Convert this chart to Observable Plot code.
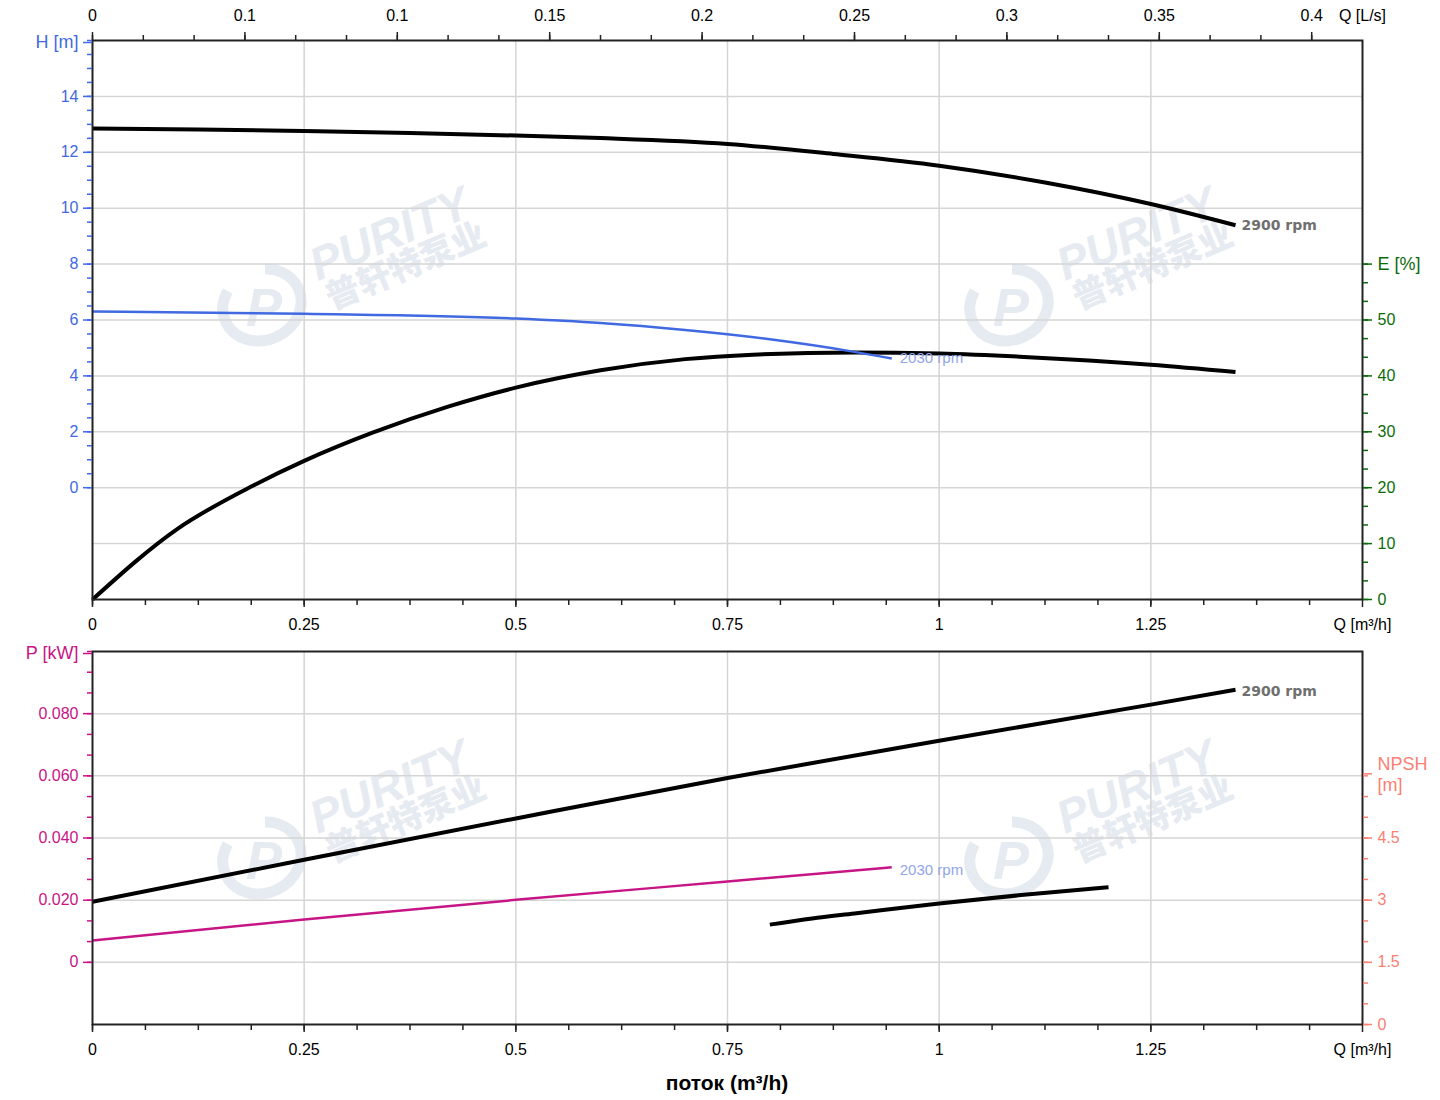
<!DOCTYPE html>
<html>
<head>
<meta charset="utf-8">
<script src="https://cdn.jsdelivr.net/npm/d3@7"></script>
<script src="https://cdn.jsdelivr.net/npm/@observablehq/plot@0.6"></script>
<style>
  body { margin: 0; background: #fff; font-family: "Liberation Sans", Arial, sans-serif; }
  #wrap { position: relative; width: 1440px; height: 1100px; }
  #wm { position: absolute; left: 0; top: 0; z-index: 0; pointer-events: none; }
  #charts { position: relative; z-index: 1; }
  #charts svg { display: block; }
  #title { position: relative; z-index: 1; margin-left: 92px; width: 1270px; text-align: center;
           font-size: 21px; font-weight: bold; line-height: 24px; padding-top: 7px; color: #000; }
</style>
</head>
<body>
<div id="wrap">
  <svg id="wm" width="1440" height="1100"></svg>
  <div id="charts"></div>
  <div id="title">поток (m³/h)</div>
</div>
<script>
// ---------- scales / domains ----------
const qDomain = [0, 1.5];          // m³/h
const hDomain = [-4, 16];          // H [m]
const eDomain = [0, 100];          // E [%]
const pDomain = [-0.02, 0.1];      // P [kW]
const nDomain = [0, 9];            // NPSH [m]

// ---------- data ----------
// Head, 2900 rpm
const qHead2900 = [0, 0.125, 0.25, 0.375, 0.5, 0.6, 0.75, 0.875, 1.0, 1.125, 1.25, 1.35];
const head2900  = [12.85, 12.82, 12.76, 12.69, 12.60, 12.51, 12.30, 11.94, 11.52, 10.92, 10.15, 9.39];
// Head, 2030 rpm
const qHead2030 = [0, 0.25, 0.5, 0.6, 0.7, 0.8, 0.9, 0.944];
const head2030  = [6.30, 6.22, 6.05, 5.89, 5.64, 5.31, 4.86, 4.62];
// Efficiency, 2900 rpm
const qEff = [0, 0.1, 0.19, 0.25, 0.33, 0.42, 0.5, 0.6, 0.7, 0.78, 0.9, 1.0, 1.1, 1.25, 1.35];
const eff  = [0, 12.6, 20.4, 24.8, 29.8, 34.5, 37.9, 41.0, 43.0, 43.8, 44.2, 44.0, 43.4, 42.0, 40.7];
// Power, 2900 rpm
const qPow2900 = [0, 0.25, 0.5, 0.75, 1.0, 1.25, 1.35];
const pow2900  = [0.0195, 0.0330, 0.0463, 0.0593, 0.0713, 0.0829, 0.0877];
// Power, 2030 rpm
const qPow2030 = [0, 0.25, 0.5, 0.75, 0.944];
const pow2030  = [0.0070, 0.0138, 0.0201, 0.0260, 0.0306];
// NPSH
const qNpsh = [0.8, 0.85, 0.9, 1.0, 1.1, 1.2];
const npsh  = [2.41, 2.56, 2.68, 2.92, 3.13, 3.31];

// ---------- ticks and labels ----------
const qTicks  = [0, 0.25, 0.5, 0.75, 1, 1.25, 1.5];
const qLabels = ["0", "0.25", "0.5", "0.75", "1", "1.25", "Q [m³/h]"];
const qGrid   = [0.25, 0.5, 0.75, 1, 1.25];
const lsTicks  = [0, 0.05, 0.1, 0.15, 0.2, 0.25, 0.3, 0.35, 0.4];
const lsLabels = ["0", "0.1", "0.1", "0.15", "0.2", "0.25", "0.3", "0.35", "0.4"];
const hTicks  = [0, 2, 4, 6, 8, 10, 12, 14];
const hLabels = ["0", "2", "4", "6", "8", "10", "12", "14"];
const hUnit   = [16, "H [m]"];
const hGrid   = [-2, 0, 2, 4, 6, 8, 10, 12, 14];
const eTicks  = [0, 10, 20, 30, 40, 50];
const eLabels = ["0", "10", "20", "30", "40", "50"];
const eUnit   = [60, "E [%]"];
const pTicks  = [0, 0.02, 0.04, 0.06, 0.08];
const pLabels = ["0", "0.020", "0.040", "0.060", "0.080"];
const pUnit   = [0.1, "P [kW]"];
const pGrid   = [0, 0.02, 0.04, 0.06, 0.08];
const nTicks  = [0, 1.5, 3, 4.5];
const nLabels = ["0", "1.5", "3", "4.5"];
const nUnit   = [6, "NPSH\n[m]"];

(function () {
// ---------- colours ----------
const cH = "#4169e1", cE = "#0b6b0b", cP = "#c71585", cN = "#fa8072";
const gridColor = "#d5d5d5", axisColor = "#222";

// secondary axes mapped onto the primary scale (linear)
const eToH = e => hDomain[0] + (e - eDomain[0]) * (hDomain[1] - hDomain[0]) / (eDomain[1] - eDomain[0]);
const nToP = n => pDomain[0] + (n - nDomain[0]) * (pDomain[1] - pDomain[0]) / (nDomain[1] - nDomain[0]);
const zip = (xs, ys) => xs.map((q, i) => ({q, v: ys[i]}));
const lbl = (vals, labels) => d => labels[vals.indexOf(d)];

const qMinor  = d3.range(0, 1.5, 0.0625);
const lsPos   = lsTicks.map(l => l * 3.6);
const lsMinor = d3.range(0, 25).map(i => i * 0.06);
const hMinor  = d3.range(0, 33).map(i => i * 0.5);
const eMinor  = d3.range(0, 19).map(i => eToH(i * 10 / 3));
const pMinor  = d3.range(0, 16).map(i => i * 0.02 / 3);
const nMinor  = d3.range(0, 13).map(i => nToP(i * 0.5));
const ePos    = eTicks.map(eToH);
const nPos    = nTicks.map(nToP);

const base = {
  width: 1440,
  marginLeft: 92, marginRight: 78,
  x: {domain: qDomain, axis: null},
  style: {fontFamily: '"Liberation Sans", Arial, sans-serif', fontSize: "16px", background: "transparent", overflow: "visible", color: "#000"}
};

const xAxes = () => [
  Plot.axisX({anchor: "bottom", ticks: qMinor, tickSize: 6, tickFormat: () => "", stroke: axisColor, strokeWidth: 1.5, label: null}),
  Plot.axisX({anchor: "bottom", ticks: qTicks, tickSize: 8, tickPadding: 11, tickFormat: lbl(qTicks, qLabels), stroke: axisColor, fill: "#000", strokeWidth: 1.5, label: null})
];
const unitAxis = (anchor, pos, text, color, extra = {}) =>
  Plot.axisY({anchor, ticks: [pos], tickSize: 9, tickPadding: anchor === "left" ? 5 : 6, tickFormat: () => text,
              color, strokeWidth: 1.5, fontSize: 18, label: null, ...extra});

const d2900 = zip(qHead2900, head2900);
const d2030 = zip(qHead2030, head2030);
const dEff  = zip(qEff, eff);

const topChart = Plot.plot({
  ...base,
  height: 640, marginTop: 40, marginBottom: 41,
  y: {domain: hDomain, axis: null},
  marks: [
    Plot.gridX({ticks: qGrid, stroke: gridColor, strokeOpacity: 1, strokeWidth: 1.5}),
    Plot.gridY({ticks: hGrid, stroke: gridColor, strokeOpacity: 1, strokeWidth: 1.5}),
    Plot.line(dEff, {x: "q", y: d => eToH(d.v), stroke: "#000", strokeWidth: 4, curve: "monotone-x", strokeLinecap: "butt"}),
    Plot.line(d2030, {x: "q", y: "v", stroke: cH, strokeWidth: 2.5, curve: "monotone-x", strokeLinecap: "butt"}),
    Plot.line(d2900, {x: "q", y: "v", stroke: "#000", strokeWidth: 4, curve: "monotone-x", strokeLinecap: "butt"}),
    Plot.text(d2900.slice(-1), {x: "q", y: "v", text: () => "2900 rpm", dx: 6, textAnchor: "start", fill: "#6f6f6f", fontWeight: "bold", fontFamily: "DejaVu Sans", fontSize: 14}),
    Plot.text(d2030.slice(-1), {x: "q", y: "v", text: () => "2030 rpm", dx: 8, textAnchor: "start", fill: "#91a5ea", fontSize: 15}),
    Plot.frame({stroke: axisColor, strokeWidth: 2}),
    ...xAxes(),
    Plot.axisX({anchor: "top", ticks: lsMinor, tickSize: 6, tickFormat: () => "", stroke: axisColor, strokeWidth: 1.5, label: null}),
    Plot.axisX({anchor: "top", ticks: lsPos, tickSize: 9, tickPadding: 11, tickFormat: lbl(lsPos, lsLabels), stroke: axisColor, fill: "#000", strokeWidth: 1.5, label: null}),
    Plot.axisX({anchor: "top", ticks: [1.5], tickSize: 0, tickPadding: 20, tickFormat: () => "Q [L/s]", fill: "#000", label: null}),
    Plot.axisY({anchor: "left", ticks: hMinor, tickSize: 5, tickFormat: () => "", color: cH, strokeWidth: 1.5, label: null}),
    Plot.axisY({anchor: "left", ticks: hTicks, tickSize: 9, tickPadding: 5, tickFormat: lbl(hTicks, hLabels), color: cH, strokeWidth: 1.5, label: null}),
    unitAxis("left", hUnit[0], hUnit[1], cH, {dy: 2}),
    Plot.axisY({anchor: "right", ticks: eMinor, tickSize: 5, tickFormat: () => "", color: cE, strokeWidth: 1.5, label: null}),
    Plot.axisY({anchor: "right", ticks: ePos, tickSize: 9, tickPadding: 6, tickFormat: lbl(ePos, eLabels), color: cE, strokeWidth: 1.5, label: null}),
    unitAxis("right", eToH(eUnit[0]), eUnit[1], cE)
  ]
});

const dP2900 = zip(qPow2900, pow2900);
const dP2030 = zip(qPow2030, pow2030);
const dN     = zip(qNpsh, npsh);

const bottomChart = Plot.plot({
  ...base,
  height: 424, marginTop: 11, marginBottom: 40,
  y: {domain: pDomain, axis: null},
  marks: [
    Plot.gridX({ticks: qGrid, stroke: gridColor, strokeOpacity: 1, strokeWidth: 1.5}),
    Plot.gridY({ticks: pGrid, stroke: gridColor, strokeOpacity: 1, strokeWidth: 1.5}),
    Plot.line(dP2030, {x: "q", y: "v", stroke: cP, strokeWidth: 2.5, curve: "monotone-x", strokeLinecap: "butt"}),
    Plot.line(dP2900, {x: "q", y: "v", stroke: "#000", strokeWidth: 4, curve: "monotone-x", strokeLinecap: "butt"}),
    Plot.line(dN, {x: "q", y: d => nToP(d.v), stroke: "#000", strokeWidth: 4, curve: "monotone-x", strokeLinecap: "butt"}),
    Plot.text(dP2900.slice(-1), {x: "q", y: "v", text: () => "2900 rpm", dx: 6, dy: 2, textAnchor: "start", fill: "#6f6f6f", fontWeight: "bold", fontFamily: "DejaVu Sans", fontSize: 14}),
    Plot.text(dP2030.slice(-1), {x: "q", y: "v", text: () => "2030 rpm", dx: 8, dy: 3, textAnchor: "start", fill: "#91a5ea", fontSize: 15}),
    Plot.frame({stroke: axisColor, strokeWidth: 2}),
    ...xAxes(),
    Plot.axisY({anchor: "left", ticks: pMinor, tickSize: 5, tickFormat: () => "", color: cP, strokeWidth: 1.5, label: null}),
    Plot.axisY({anchor: "left", ticks: pTicks, tickSize: 9, tickPadding: 5, tickFormat: lbl(pTicks, pLabels), color: cP, strokeWidth: 1.5, label: null}),
    unitAxis("left", pUnit[0], pUnit[1], cP, {dy: 2}),
    Plot.axisY({anchor: "right", ticks: nMinor, tickSize: 5, tickFormat: () => "", color: cN, strokeWidth: 1.5, label: null}),
    Plot.axisY({anchor: "right", ticks: nPos, tickSize: 9, tickPadding: 6, tickFormat: lbl(nPos, nLabels), color: cN, strokeWidth: 1.5, label: null}),
    unitAxis("right", nToP(nUnit[0]), nUnit[1], cN, {lineHeight: 1.15, dy: -2})
  ]
});

document.getElementById("charts").append(topChart, bottomChart);

// ---------- faint "PURITY" watermarks (decoration behind the charts) ----------
const wm = d3.select("#wm");
const wmColor = "#e6eaf1";
const wmOrigins = [[0, 0], [747, 0], [0, 553], [747, 553]];
for (const [ox, oy] of wmOrigins) {
  const g = wm.append("g").attr("transform", `translate(${ox},${oy})`);
  g.append("ellipse").attr("cx", 262).attr("cy", 305).attr("rx", 40).attr("ry", 35)
    .attr("fill", "none").attr("stroke", wmColor).attr("stroke-width", 11)
    .attr("stroke-dasharray", "150 45").attr("transform", "rotate(-25,262,305)");
  g.append("text").attr("x", 246).attr("y", 326).attr("font-size", 54).attr("font-weight", "bold")
    .attr("font-style", "italic").attr("fill", wmColor).attr("font-family", "Liberation Sans, Arial").text("P");
  g.append("text").attr("x", 318).attr("y", 281).attr("transform", "rotate(-23,318,281)")
    .attr("font-size", 46).attr("font-weight", 900).attr("font-style", "italic")
    .attr("font-family", "Liberation Sans, Arial").attr("fill", wmColor).text("PURITY");
  g.append("text").attr("x", 332).attr("y", 310).attr("transform", "rotate(-23,332,310)")
    .attr("font-size", 34).attr("font-weight", 900)
    .attr("font-family", "Noto Sans CJK SC").attr("fill", wmColor).text("普轩特泵业");
}
})();
</script>
</body>
</html>
